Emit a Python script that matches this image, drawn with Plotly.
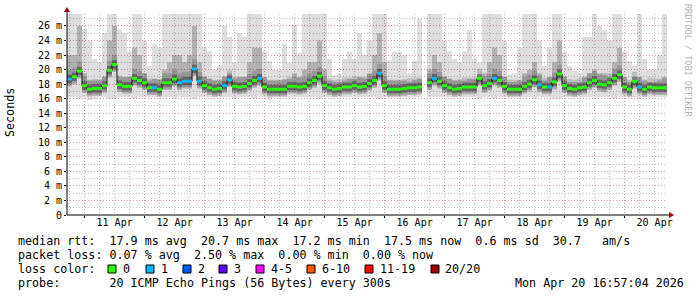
import plotly.graph_objects as go
import pandas as pd

# ---------------- data ----------------
START = "2026-04-10 16:57:04"
END = "2026-04-20 16:57:04"
FIRST_STEP_CENTER = "2026-04-10 17:57:04"   # 2-hour steps

median_ms = [
    18.7, 19.0, 19.8, 17.8, 17.3, 17.4, 17.4, 17.8, 19.9, 20.7, 17.9, 17.7,
    17.7, 18.8, 18.5, 18.2, 17.5, 17.5, 17.3, 18.2, 18.2, 18.7, 18.2, 18.4,
    18.4, 20.1, 18.4, 17.8, 17.5, 17.3, 17.4, 17.8, 18.6, 17.7, 17.6, 17.7,
    18.1, 18.5, 18.8, 17.6, 17.3, 17.3, 17.3, 17.3, 17.7, 17.7, 17.6, 17.7,
    18.2, 18.5, 19.1, 17.8, 17.5, 17.3, 17.4, 17.6, 17.6, 17.8, 17.6, 17.7,
    18.1, 18.5, 19.5, 17.8, 17.3, 17.3, 17.3, 17.4, 17.5, 17.5, 17.6, None,
    18.2, 18.8, 18.4, 17.8, 17.5, 17.3, 17.4, 17.6, 17.6, 17.6, 18.8, 17.8,
    18.1, 18.8, 18.5, 17.7, 17.3, 17.3, 17.3, 17.7, 18.0, 18.6, 17.9, 17.6,
    17.6, 18.3, 19.4, 17.8, 17.4, 17.3, 17.5, 17.6, 18.2, 18.5, 18.0, 17.9,
    18.2, 18.8, 19.3, 17.6, 17.3, 18.4, 17.6, 17.3, 17.6, 17.5, 17.5, 17.5,
]

loss_count = [
    1, 0, 0, 0, 0, 0, 0, 0, 0, 0, 0, 0,
    0, 0, 0, 0, 0, 1, 0, 0, 0, 0, 1, 1,
    1, 1, 1, 0, 0, 0, 0, 1, 1, 0, 0, 0,
    0, 0, 1, 0, 0, 0, 0, 0, 0, 0, 0, 0,
    0, 0, 0, 0, 0, 0, 0, 0, 0, 0, 0, 0,
    0, 0, 1, 0, 0, 0, 0, 0, 0, 0, 0, 0,
    0, 1, 0, 0, 0, 0, 0, 0, 0, 0, 0, 0,
    0, 1, 0, 0, 0, 0, 0, 0, 0, 0, 1, 0,
    1, 0, 0, 0, 0, 0, 0, 0, 0, 0, 0, 0,
    0, 0, 0, 0, 0, 0, 1, 0, 0, 0, 0, 0,
]

smoke_top = [
    28, 28, 28, 25.5, 24, 21.5, 21, 25, 28, 28, 25.5, 25,
    22.5, 28, 28, 24, 20.5, 23.5, 23, 28, 28, 28, 28, 28,
    28, 28, 28, 23, 22.5, 20, 20.5, 26, 24.5, 21, 25, 24.5,
    28, 28, 28, 22.5, 21.2, 20, 20, 23.5, 21, 26.2, 22.3, 28,
    28, 28, 28, 28, 21.5, 19.2, 19.5, 21.5, 22.5, 21.5, 25, 22,
    24, 28, 28, 28, 21.3, 22.5, 22.5, 22, 19.5, 21.2, 27, None,
    28, 28, 28, 24, 22.5, 21.5, 21, 22.5, 25.5, 21.5, 21, 28,
    28, 28, 28, 24, 19.3, 19.5, 23, 28, 28, 28, 24, 20.5,
    23, 28, 28, 22.5, 20.5, 19.8, 19.6, 24.5, 24.5, 28, 26, 25.5,
    24, 28, 28, 22.5, 21.2, 20.5, 28, 21.5, 20, 20, 22, 28,
]

smoke_mid = [
    22, 22, 26, 19.5, 18.5, 18.5, 18.5, 19, 24, 26, 19, 19,
    19, 23, 22, 19.5, 18.5, 18.7, 18.7, 20, 21, 22, 22, 21,
    22, 26, 21, 19, 18.7, 18.5, 18.5, 19, 19.5, 18.8, 19, 19,
    21, 23, 23, 19, 18.5, 18.5, 18.5, 18.7, 18.7, 19.5, 19, 20,
    21, 21, 24, 20, 18.5, 18.3, 18.3, 18.5, 18.7, 18.7, 19, 18.8,
    19.5, 22, 25, 21, 18.5, 18.5, 18.5, 18.5, 18.3, 18.5, 18.7, None,
    20, 22, 21, 19, 18.7, 18.5, 18.5, 18.5, 18.7, 18.7, 19, 19.5,
    21, 23, 22, 19, 18.3, 18.3, 18.5, 19.5, 20, 21, 19.5, 18.5,
    19, 21, 24, 19, 18.3, 18.3, 18.3, 19, 19.5, 20, 19.5, 19.5,
    19, 21, 23, 19, 18.3, 18.5, 19, 18.5, 18.3, 18.3, 18.5, 19,
]

smoke_low = [
    16.2, 16.2, 16.0, 16.2, 15.8, 16.0, 16.2, 16.2, 16.0, 16.0, 16.2, 16.2,
    16.2, 16.0, 16.2, 16.2, 16.2, 16.2, 16.2, 16.2, 16.2, 16.0, 16.2, 16.2,
    16.2, 16.0, 16.2, 16.2, 16.2, 16.2, 16.2, 16.2, 16.2, 16.0, 16.2, 16.2,
    16.2, 16.0, 16.2, 16.2, 16.0, 16.2, 16.2, 16.2, 16.2, 16.2, 16.2, 16.2,
    16.2, 16.2, 16.0, 16.2, 16.2, 16.2, 16.2, 16.2, 16.2, 16.2, 16.2, 16.2,
    16.2, 16.2, 16.0, 16.2, 16.2, 16.2, 16.2, 16.2, 16.2, 16.2, 16.2, None,
    16.2, 16.2, 16.2, 16.2, 16.2, 16.2, 16.2, 16.2, 16.2, 16.2, 16.0, 16.2,
    16.2, 16.0, 16.2, 16.2, 16.2, 16.2, 16.2, 16.2, 16.2, 16.0, 16.2, 16.2,
    16.2, 16.0, 16.0, 16.2, 16.2, 16.2, 16.2, 16.2, 16.2, 16.2, 16.2, 16.2,
    16.2, 16.0, 16.2, 16.2, 16.2, 16.2, 16.0, 16.2, 16.2, 16.2, 16.2, 16.2,
]

y_tick_vals = [0, 2, 4, 6, 8, 10, 12, 14, 16, 18, 20, 22, 24, 26]
y_tick_text = ["0", "2 m", "4 m", "6 m", "8 m", "10 m", "12 m", "14 m",
               "16 m", "18 m", "20 m", "22 m", "24 m", "26 m"]
day_starts = ["2026-04-11", "2026-04-12", "2026-04-13", "2026-04-14", "2026-04-15",
              "2026-04-16", "2026-04-17", "2026-04-18", "2026-04-19", "2026-04-20"]
day_labels = ["11 Apr", "12 Apr", "13 Apr", "14 Apr", "15 Apr",
              "16 Apr", "17 Apr", "18 Apr", "19 Apr", "20 Apr"]
day_noons = [d + " 12:00" for d in day_starts]

legend_labels = ["0", "1", "2", "3", "4-5", "6-10", "11-19", "20/20"]
legend_colors = ["#26ff00", "#00b8ff", "#0059ff", "#5e00ff", "#ff00ff",
                 "#ff5500", "#ff0000", "#a10000"]

stat_lines = [
    "median rtt:  17.9 ms avg  20.7 ms max  17.2 ms min  17.5 ms now  0.6 ms sd  30.7   am/s",
    "packet loss: 0.07 % avg  2.50 % max  0.00 % min  0.00 % now",
    "loss color:",
    "probe:       20 ICMP Echo Pings (56 Bytes) every 300s",
]
timestamp_text = "Mon Apr 20 16:57:04 2026"
title_text = "Seconds"
side_text = "RRDTOOL / TOBI OETIKER"

# ---------------- geometry / styles ----------------
L, R, T, B = 67, 667, 14, 215
W, H = R - L, B - T
FIG_W, FIG_H = 697, 297
MONO = "DejaVu Sans Mono"
STEP_MS = 2 * 3600 * 1000
major_grid = "#e29c9c"
minor_grid = "#c0c0c0"
dash = "1px,2px"


def px(x):
    return (x - L) / W


def py(y):
    return (B - y) / H


times = pd.date_range(FIRST_STEP_CENTER, periods=len(median_ms), freq="2h")


def span(lo, hi):
    return [None if (a is None or b is None) else b - a for a, b in zip(lo, hi)]


def shift(vals, d):
    return [None if v is None else v + d for v in vals]


fig = go.Figure()


def smoke_bar(base, top, rgba, xa="x"):
    fig.add_trace(go.Bar(x=times, base=base, y=span(base, top), width=STEP_MS, xaxis=xa,
                         marker=dict(color=rgba, line=dict(width=0)), hoverinfo="skip"))


# smoke layers, lightest (full range) to densest (around the median)
smoke_bar(smoke_low, smoke_top, "rgba(0,0,0,0.13)")
smoke_bar(shift(median_ms, -1.0), smoke_mid, "rgba(0,0,0,0.2)")
smoke_bar(shift(median_ms, -0.8), shift(median_ms, 1.3), "rgba(0,0,0,0.14)")
smoke_bar(shift(median_ms, -0.55), shift(median_ms, 0.6), "rgba(0,0,0,0.33)")

# median connectors (vertical strokes at step changes)
fig.add_trace(go.Scatter(x=times, y=median_ms, mode="lines", line_shape="hvh",
                         line=dict(color="#111111", width=1), connectgaps=False,
                         hoverinfo="skip", xaxis="x2"))
# median coloured by loss
fig.add_trace(go.Bar(x=times, base=shift(median_ms, -0.2),
                     y=span(shift(median_ms, -0.2), shift(median_ms, 0.2)),
                     width=STEP_MS, xaxis="x3",
                     marker=dict(color=[legend_colors[c] for c in loss_count], line=dict(width=0)),
                     hoverinfo="skip"))

shapes = [
    dict(type="line", xref="paper", yref="paper", x0=0, x1=0, y0=0, y1=py(10),
         line=dict(color="#000000", width=1)),
    dict(type="line", xref="paper", yref="paper", x0=0, x1=px(671), y0=0, y1=0,
         line=dict(color="#000000", width=1)),
    dict(type="path", xref="paper", yref="paper",
         path=f"M {px(64)},{py(12)} L {px(70)},{py(12)} L {px(67)},{py(7)} Z",
         fillcolor="#a00000", line=dict(width=0)),
    dict(type="path", xref="paper", yref="paper",
         path=f"M {px(669)},{py(212)} L {px(669)},{py(218)} L {px(674)},{py(215)} Z",
         fillcolor="#a00000", line=dict(width=0)),
]

annotations = [
    dict(text=title_text, x=px(10), y=py(113), xref="paper", yref="paper",
         xanchor="center", yanchor="middle",
         textangle=-90, showarrow=False, font=dict(family=MONO, size=11.7, color="#000")),
    dict(text=side_text.replace(" ", "\u00a0"), x=px(688), y=py(60), xref="paper", yref="paper",
         xanchor="center", yanchor="middle",
         textangle=90, showarrow=False, font=dict(family=MONO, size=8.5, color="#b4b4b4")),
]
line_y = [241, 255, 269, 283]
for txt, yy in zip(stat_lines, line_y):
    annotations.append(dict(text=txt.replace(" ", "\u00a0"), x=px(15.5), y=py(yy),
                            xref="paper", yref="paper", xanchor="left", yanchor="middle",
                            showarrow=False, font=dict(family=MONO, size=11.7, color="#000")))
annotations.append(dict(text=timestamp_text.replace(" ", "\u00a0"), x=px(512.5), y=py(283),
                        xref="paper", yref="paper", xanchor="left", yanchor="middle",
                        showarrow=False, font=dict(family=MONO, size=11.7, color="#000")))

legend_sq_x = [108, 146, 183, 219, 256, 307, 365, 431]
for lab, col, sx in zip(legend_labels, legend_colors, legend_sq_x):
    shapes.append(dict(type="rect", xref="paper", yref="paper",
                       x0=px(sx), x1=px(sx + 8), y0=py(273), y1=py(265),
                       fillcolor=col, line=dict(color="#000000", width=1)))
    annotations.append(dict(text=lab, x=px(sx + 12.5), y=py(269), xref="paper", yref="paper",
                            xanchor="left", yanchor="middle", showarrow=False,
                            font=dict(family=MONO, size=11.7, color="#000")))

fig.update_layout(
    width=FIG_W, height=FIG_H,
    margin=dict(l=L, r=FIG_W - R, t=T, b=FIG_H - B, pad=0),
    paper_bgcolor="#ffffff", plot_bgcolor="#ffffff",
    showlegend=False, barmode="overlay",
    shapes=shapes, annotations=annotations,
    # 6-hour minor grid
    xaxis=dict(type="date", range=[START, END], tickmode="linear", tick0="2026-04-11",
               dtick=6 * 3600 * 1000, showticklabels=False, ticks="",
               showgrid=True, gridcolor=minor_grid, griddash=dash, gridwidth=1,
               zeroline=False, showline=False),
    # midnight major grid
    xaxis2=dict(type="date", overlaying="x", matches="x", side="bottom", anchor="y",
                tickmode="array", tickvals=day_starts, showticklabels=False,
                showgrid=True, gridcolor=major_grid, griddash=dash, gridwidth=1,
                ticks="outside", ticklen=2, tickcolor="#000", zeroline=False, showline=False),
    # day labels at noon
    xaxis3=dict(type="date", overlaying="x", matches="x", side="bottom", anchor="y",
                tickmode="array", tickvals=day_noons, ticktext=day_labels,
                showgrid=False, ticks="", zeroline=False, showline=False,
                tickfont=dict(family=MONO, size=10, color="#000")),
    yaxis=dict(range=[0, 27.65], tickmode="array", tickvals=y_tick_vals, ticktext=y_tick_text,
               showgrid=True, gridcolor=major_grid, griddash=dash, gridwidth=1,
               ticks="outside", ticklen=2, tickcolor="#000", zeroline=False, showline=False,
               tickfont=dict(family=MONO, size=10, color="#000"),
               minor=dict(dtick=1, showgrid=True, gridcolor=minor_grid, griddash=dash, ticks="")),
)

fig.write_html("out.html")
